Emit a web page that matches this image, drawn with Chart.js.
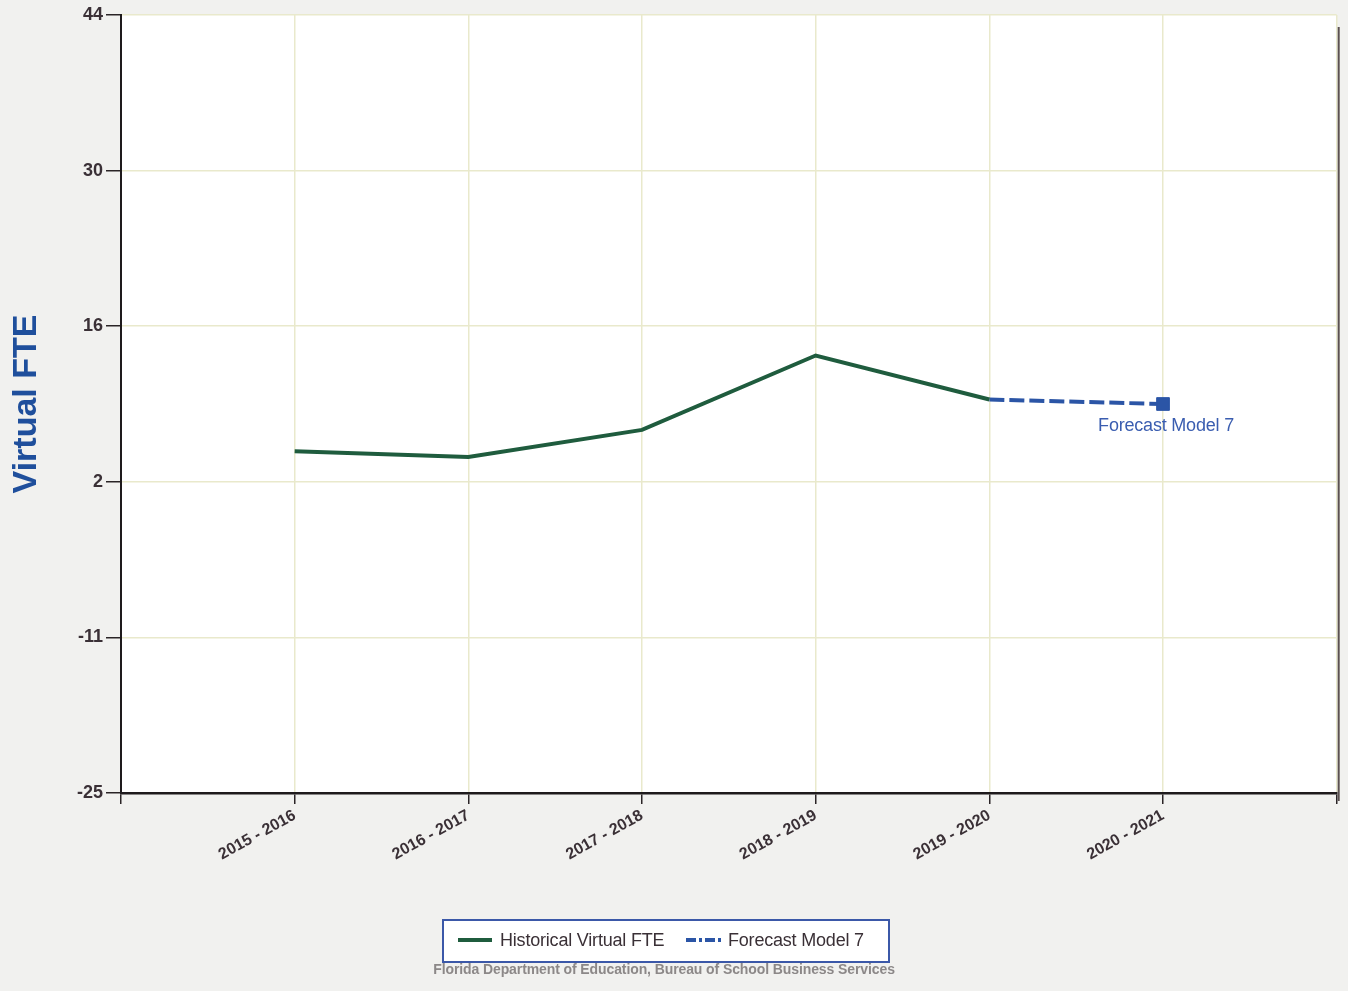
<!DOCTYPE html>
<html>
<head>
<meta charset="utf-8">
<script src="https://cdn.jsdelivr.net/npm/chart.js@4/dist/chart.umd.min.js"></script>
<style>
  html, body { margin: 0; padding: 0; background: #f1f1ef; }
  #wrap { width: 1348px; height: 991px; position: relative; }
</style>
</head>
<body>
<div id="wrap"><canvas id="fteChart"></canvas></div>
<script>
// --- Data ---
const years = ['', '2015 - 2016', '2016 - 2017', '2017 - 2018', '2018 - 2019', '2019 - 2020', '2020 - 2021', ''];
const historical = [null, 5.3, 4.8, 7.2, 13.8, 9.9, null, null];
const forecast = [null, null, null, null, null, 9.9, 9.5, null];
const yTickValues = [-25, -11.2, 2.6, 16.4, 30.2, 44];
const yTickLabels = ['-25', '-11', '2', '16', '30', '44'];

const GREEN = '#1f5c3e';
const BLUE = '#2b55a6';
const TEXT = '#3a3036';

// white plot area + right edge
const plotBox = {
    id: 'plotBox',
    beforeDraw(chart) {
        const { ctx, chartArea: a } = chart;
        ctx.save();
        ctx.fillStyle = '#ffffff';
        ctx.fillRect(a.left, a.top, a.right - a.left, a.bottom - a.top);
        ctx.restore();
    },
    afterDraw(chart) {
        const { ctx, chartArea: a } = chart;
        ctx.save();
        ctx.strokeStyle = '#5a5050';
        ctx.lineWidth = 2;
        ctx.beginPath();
        ctx.moveTo(a.right + 2, a.top + 12);
        ctx.lineTo(a.right + 2, a.bottom + 8);
        ctx.stroke();
        ctx.restore();
    }
};

// forecast label, legend box and footer
const extras = {
    id: 'extras',
    afterDatasetsDraw(chart) {
        const ctx = chart.ctx;
        const meta = chart.getDatasetMeta(1);
        const pt = meta.data[6];
        ctx.save();
        ctx.font = '18px "Liberation Sans", Arial, sans-serif';
        ctx.letterSpacing = '-0.2px';
        ctx.fillStyle = '#3a5db0';
        ctx.textAlign = 'center';
        ctx.textBaseline = 'middle';
        ctx.fillText('Forecast Model 7', pt.x + 3, pt.y + 22);
        ctx.restore();
    },
    afterDraw(chart) {
        const ctx = chart.ctx;
        ctx.save();
        // legend box
        ctx.fillStyle = '#ffffff';
        ctx.fillRect(443, 920, 446, 42);
        ctx.strokeStyle = '#3b58a8';
        ctx.lineWidth = 2;
        ctx.strokeRect(443, 920, 446, 42);

        const ds = chart.data.datasets;
        // historical sample
        ctx.strokeStyle = GREEN;
        ctx.lineWidth = 4;
        ctx.beginPath();
        ctx.moveTo(458, 940);
        ctx.lineTo(492, 940);
        ctx.stroke();
        // forecast sample (dash-dot)
        ctx.strokeStyle = BLUE;
        ctx.setLineDash([10, 3, 3, 3]);
        ctx.beginPath();
        ctx.moveTo(686, 940);
        ctx.lineTo(721, 940);
        ctx.stroke();
        ctx.setLineDash([]);

        ctx.font = '18px "Liberation Sans", Arial, sans-serif';
        ctx.letterSpacing = '-0.2px';
        ctx.fillStyle = TEXT;
        ctx.textAlign = 'left';
        ctx.textBaseline = 'middle';
        ctx.fillText(ds[0].label, 500, 941);
        ctx.fillText(ds[1].label, 728, 941);

        // footer
        ctx.font = 'bold 14px "Liberation Sans", Arial, sans-serif';
        ctx.letterSpacing = '-0.1px';
        ctx.fillStyle = '#8c8888';
        ctx.textAlign = 'center';
        ctx.fillText('Florida Department of Education, Bureau of School Business Services', 664, 970);
        ctx.restore();
    }
};

new Chart(document.getElementById('fteChart'), {
    type: 'line',
    data: {
        labels: years,
        datasets: [
            {
                label: 'Historical Virtual FTE',
                data: historical,
                borderColor: GREEN,
                borderWidth: 4,
                pointRadius: 0,
                tension: 0,
                spanGaps: false
            },
            {
                label: 'Forecast Model 7',
                data: forecast,
                borderColor: BLUE,
                backgroundColor: BLUE,
                borderWidth: 4,
                borderDash: [15, 5],
                pointStyle: 'rect',
                pointRadius: [0, 0, 0, 0, 0, 0, 9, 0],
                pointBorderWidth: 1,
                tension: 0
            }
        ]
    },
    options: {
        responsive: true,
        maintainAspectRatio: false,
        animation: false,
        layout: { padding: { top: 15, right: 0, bottom: 0, left: 0 } },
        plugins: {
            legend: { display: false },
            tooltip: { enabled: false }
        },
        scales: {
            x: {
                offset: false,
                grid: { color: '#e9e9cc', tickColor: '#2a2426', tickLength: 11, lineWidth: 1.5 },
                border: { color: '#1e1a1c', width: 2.5 },
                ticks: {
                    autoSkip: false,
                    minRotation: 29,
                    maxRotation: 29,
                    padding: 2,
                    color: TEXT,
                    font: { family: '"Liberation Sans", Arial, sans-serif', size: 16, weight: 'bold' }
                },
                afterFit(s) { s.height = 198; }
            },
            y: {
                min: -25,
                max: 44,
                afterBuildTicks(s) {
                    s.ticks = yTickValues.map(v => ({ value: v }));
                },
                grid: { color: '#e9e9cc', tickColor: '#2a2426', tickLength: 15, lineWidth: 1.5 },
                border: { color: '#1e1a1c', width: 2 },
                ticks: {
                    padding: 3,
                    color: TEXT,
                    font: { family: '"Liberation Sans", Arial, sans-serif', size: 18, weight: 'bold' },
                    callback: (v, i) => yTickLabels[i]
                },
                title: {
                    display: true,
                    text: 'Virtual FTE',
                    color: '#1f4f9c',
                    font: { family: '"Liberation Sans", Arial, sans-serif', size: 34, weight: 'bold' },
                    padding: { top: 6, bottom: 0 }
                },
                afterFit(s) { s.width = 121; }
            }
        }
    },
    plugins: [plotBox, extras]
});
</script>
</body>
</html>
